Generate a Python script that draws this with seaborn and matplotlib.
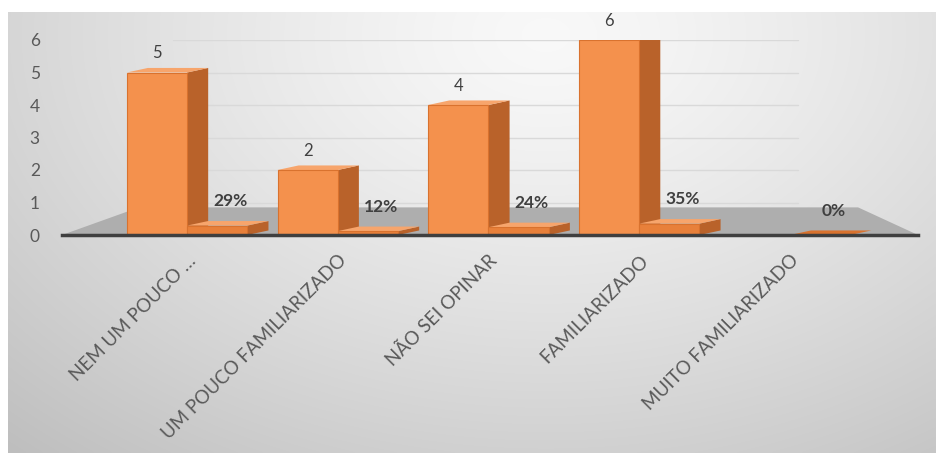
import numpy as np
import pandas as pd
import matplotlib
matplotlib.use("Agg")
import matplotlib.pyplot as plt
import matplotlib.transforms as mtransforms
import seaborn as sns

# ---- data ----
categories = ["NEM UM POUCO …", "UM POUCO FAMILIARIZADO", "NÃO SEI OPINAR",
              "FAMILIARIZADO", "MUITO FAMILIARIZADO"]
counts = [5, 2, 4, 6, 0]
percents = [0.29, 0.12, 0.24, 0.35, 0.0]
percent_labels = ["29%", "12%", "24%", "35%", "0%"]
y_ticks = [0, 1, 2, 3, 4, 5, 6]

df = pd.concat([
    pd.DataFrame({"cat": categories, "serie": "Quantidade", "valor": counts}),
    pd.DataFrame({"cat": categories, "serie": "Percentual", "valor": percents}),
], ignore_index=True)

sns.set_theme(style="white")
plt.rcParams["font.family"] = ["Lato", "DejaVu Sans"]

W, H = 936, 453
fig = plt.figure(figsize=(W / 100, H / 100), dpi=100, facecolor="white")

# background gradient panel (chart area)
bg = fig.add_axes([8 / W, 0, 1 - 8 / W, 1 - 12 / H])
yy, xx = np.mgrid[0:1:200j, 0:1:400j]
d = np.sqrt(((xx - 0.58) / 0.75) ** 2 + ((yy - 0.05) / 1.1) ** 2)
shade = 0.975 - 0.19 * np.clip(d, 0, 1.2) ** 1.3
bg.imshow(np.dstack([shade] * 3), aspect="auto", extent=[0, 1, 1, 0],
          interpolation="bicubic")
bg.set_axis_off()

ax = fig.add_axes([62 / W, (H - 235) / H, (918 - 62) / W, (235 - 40) / H])
ax.patch.set_alpha(0)

sns.barplot(data=df, x="cat", y="valor", hue="serie",
            palette=["#F4914D", "#E8803A"], width=0.8, dodge=True,
            saturation=1, legend=False, ax=ax, zorder=3,
            edgecolor="#D9722E", linewidth=0.8)

ax.set_xlim(-0.83, 4.85)
ax.set_ylim(0, 6)

# floor (grey plane) in blended coords
trans = mtransforms.blended_transform_factory(ax.transAxes, ax.transData)
ax.fill([0.0, 1.0, 0.93, 0.09], [0, 0, 0.85, 0.85], color="#AEAEAE",
        transform=trans, zorder=1, lw=0)

# back-wall gridlines
for t in y_ticks[1:]:
    ax.plot([0.13, 0.86], [t, t], transform=trans, color="#D9D9D9",
            lw=1, zorder=0.5)

# 3D-ish side faces derived from the drawn bars
n = len(categories)
count_bars = ax.patches[:n]
pct_bars = ax.patches[n:2 * n]
for i, p in enumerate(list(count_bars) + list(pct_bars)):
    x0, w, h = p.get_x(), p.get_width(), p.get_height()
    is_pct = i >= n
    if h <= 0 and not is_pct:
        continue
    dx = w * 0.35
    dy = 0.14
    if h > 0:
        ax.fill([x0 + w, x0 + w + dx, x0 + w + dx, x0 + w],
                [0, dy, h + dy, h], color="#B9622A", zorder=2.9, lw=0)
    ax.fill([x0, x0 + dx, x0 + w + dx, x0 + w],
            [h, h + dy, h + dy, h],
            color="#F7A56C" if h > 0 else "#D9722E", zorder=2.9, lw=0)

# value labels
for bar, v in zip(count_bars, counts):
    if v > 0:
        ax.text(bar.get_x() + bar.get_width() / 2, v + 0.35, str(v),
                ha="center", va="bottom", fontsize=12, color="#404040",
                clip_on=False, zorder=5)
for bar, lab, v in zip(pct_bars, percent_labels, percents):
    ax.text(bar.get_x() + bar.get_width() * 0.72, v + 0.5, lab,
            ha="center", va="bottom", fontsize=12.5, fontweight="bold",
            color="#404040", clip_on=False, zorder=5)

# axes styling
ax.set_yticks(y_ticks)
ax.set_yticklabels([str(t) for t in y_ticks], fontsize=12.5, color="#595959")
ax.tick_params(axis="y", length=0, pad=16)
ax.tick_params(axis="x", length=0, pad=12)
ax.set_xticks(range(n))
ax.set_xticklabels(categories, rotation=45, ha="right",
                   rotation_mode="anchor", fontsize=13.5, color="#595959")
ax.set_xlabel("")
ax.set_ylabel("")
for s in ["left", "right", "top"]:
    ax.spines[s].set_visible(False)
ax.spines["bottom"].set_color("#3F3F3F")
ax.spines["bottom"].set_linewidth(2.5)
ax.spines["bottom"].set_zorder(6)

fig.savefig("out.png", dpi=100)
